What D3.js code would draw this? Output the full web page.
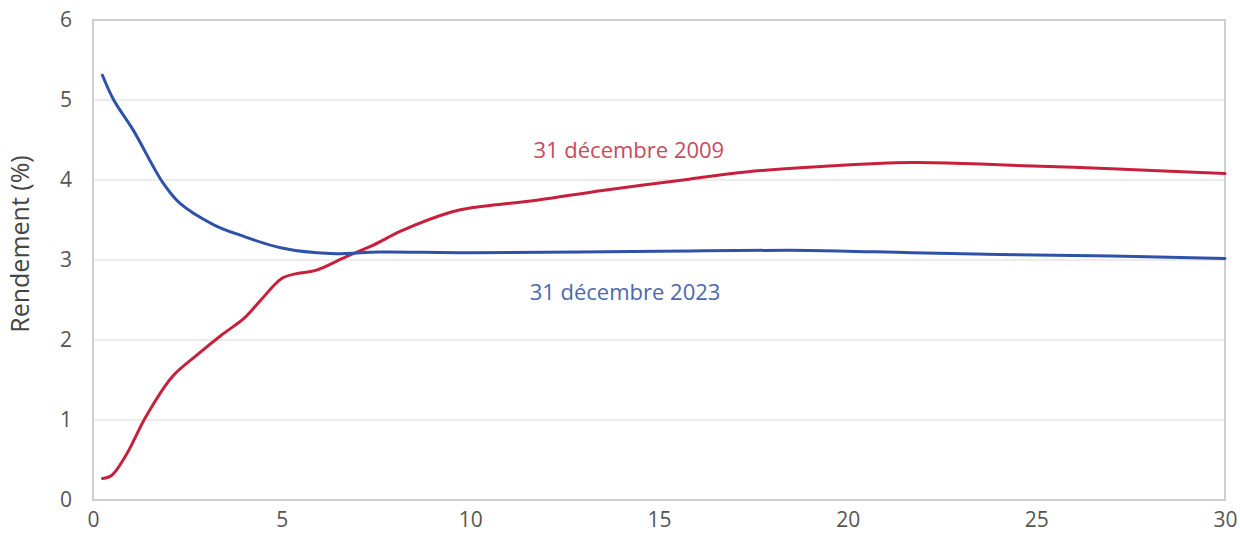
<!DOCTYPE html>
<html>
<head>
<meta charset="utf-8">
<script src="https://cdn.jsdelivr.net/npm/d3@7"></script>
<style>
  body { margin: 0; background: #fff; }
  svg text { font-family: "Open Sans", "Noto Sans", sans-serif; }
  .tick text { fill: #555; font-size: 21px; }
</style>
</head>
<body>
<svg width="1240" height="539"></svg>
<script>
// échéances (années) et rendements (%)
var maturities2009 = [0.25, 0.5, 0.9, 1.4, 2.1, 2.75, 3.4, 4, 4.45, 5, 5.4, 5.9, 6.7, 7.4, 8.2, 9.5, 10, 11.8, 13.5, 15.8, 17.3, 19.3, 21.7, 24, 27, 30];
var yields2009 = [0.27, 0.31, 0.58, 1.04, 1.54, 1.81, 2.06, 2.27, 2.5, 2.77, 2.83, 2.87, 3.04, 3.18, 3.37, 3.6, 3.65, 3.75, 3.87, 4.01, 4.1, 4.17, 4.22, 4.19, 4.14, 4.08];

var maturities2023 = [0.25, 0.55, 1.07, 1.86, 2.3, 3.2, 3.9, 5, 6.3, 7.6, 10, 15, 19, 21.7, 24, 27, 30];
var yields2023 = [5.31, 5.0, 4.62, 3.96, 3.71, 3.44, 3.31, 3.15, 3.08, 3.1, 3.09, 3.11, 3.12, 3.09, 3.07, 3.05, 3.02];

var xTicks = [0, 5, 10, 15, 20, 25, 30];
var yTicks = [0, 1, 2, 3, 4, 5, 6];

var series = [
  { name: "31 décembre 2009", xs: maturities2009, ys: yields2009, color: "#c8203c", label: "#c64b5e", lx: 14.2, ly: 4.35 },
  { name: "31 décembre 2023", xs: maturities2023, ys: yields2023, color: "#2f52a8", label: "#4a68b0", lx: 14.1, ly: 2.57 }
];

var svg = d3.select("svg");
var plotLeft = 93, plotRight = 1225, plotTop = 20, plotBottom = 500;

var x = d3.scaleLinear().domain([0, 30]).range([plotLeft, plotRight]);
var y = d3.scaleLinear().domain([0, 6]).range([plotBottom, plotTop]);

// grille horizontale
svg.append("g")
  .selectAll("line")
  .data(yTicks.slice(1, -1))
  .enter().append("line")
  .attr("x1", plotLeft).attr("x2", plotRight)
  .attr("y1", function(d) { return y(d); })
  .attr("y2", function(d) { return y(d); })
  .attr("stroke", "#ebebeb")
  .attr("stroke-width", 2);

// cadre
svg.append("rect")
  .attr("x", plotLeft).attr("y", plotTop)
  .attr("width", plotRight - plotLeft).attr("height", plotBottom - plotTop)
  .attr("fill", "none")
  .attr("stroke", "#cfcfcf")
  .attr("stroke-width", 2);

var xAxis = svg.append("g")
  .attr("transform", "translate(0," + plotBottom + ")")
  .call(d3.axisBottom(x).tickValues(xTicks).tickFormat(d3.format("d")).tickSize(0).tickPadding(12));
xAxis.select(".domain").remove();

var yAxis = svg.append("g")
  .attr("transform", "translate(" + plotLeft + ",0)")
  .call(d3.axisLeft(y).tickValues(yTicks).tickFormat(d3.format("d")).tickSize(0).tickPadding(21));
yAxis.select(".domain").remove();

svg.append("text")
  .attr("transform", "translate(22," + y(3.2) + ") rotate(-90)")
  .attr("text-anchor", "middle")
  .attr("dominant-baseline", "middle")
  .attr("fill", "#444")
  .attr("font-size", 25)
  .text("Rendement (%)");

var line = d3.line()
  .x(function(d) { return x(d[0]); })
  .y(function(d) { return y(d[1]); })
  .curve(d3.curveCatmullRom.alpha(0.5));

series.forEach(function(s) {
  svg.append("path")
    .datum(d3.zip(s.xs, s.ys))
    .attr("fill", "none")
    .attr("stroke", s.color)
    .attr("stroke-width", 3)
    .attr("stroke-linejoin", "round")
    .attr("stroke-linecap", "round")
    .attr("d", line);

  svg.append("text")
    .attr("x", x(s.lx))
    .attr("y", y(s.ly))
    .attr("text-anchor", "middle")
    .attr("dominant-baseline", "middle")
    .attr("fill", s.label)
    .attr("font-size", 22)
    .text(s.name);
});
</script>
</body>
</html>
